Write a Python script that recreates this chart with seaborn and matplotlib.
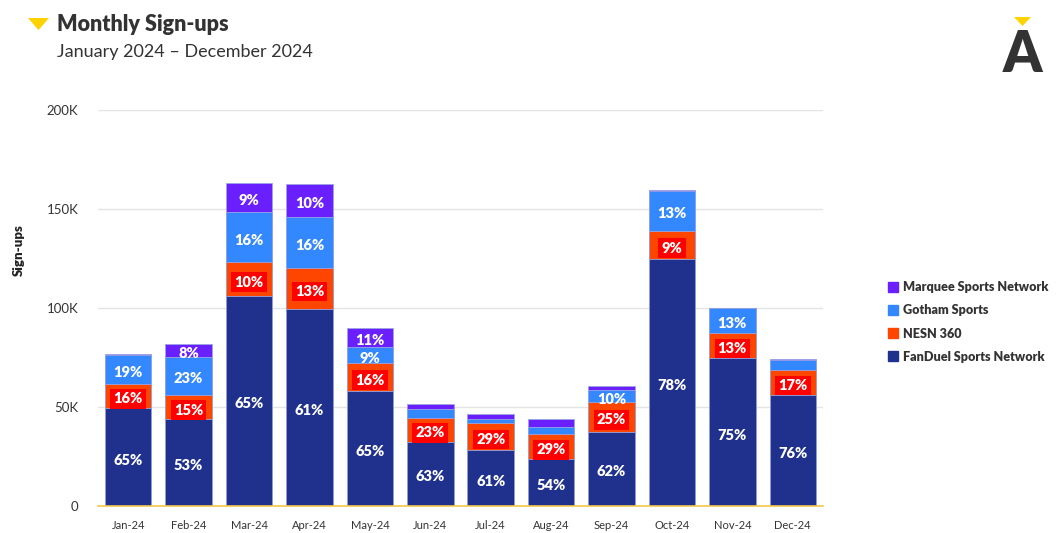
# plot.py

import seaborn as sns
import matplotlib.pyplot as plt
from matplotlib.lines import Line2D
from matplotlib.patches import Polygon
import numpy as np

# --- 1. Data (sign-ups in thousands) ---
months = ["Jan-24", "Feb-24", "Mar-24", "Apr-24", "May-24", "Jun-24",
          "Jul-24", "Aug-24", "Sep-24", "Oct-24", "Nov-24", "Dec-24"]
fanduel = [49.5, 43.8, 106.2, 99.5, 58.1, 32.5, 28.3, 23.6, 37.6, 124.6, 74.8, 56.2]
nesn = [12.3, 12.4, 16.9, 20.9, 14.1, 11.9, 13.5, 12.6, 14.9, 14.4, 12.6, 12.5]
gotham = [14.5, 19.0, 25.5, 25.5, 8.0, 4.5, 2.3, 3.5, 5.9, 20.3, 12.6, 5.0]
marquee = [0.3, 6.8, 14.5, 16.5, 9.6, 2.4, 2.5, 4.1, 2.2, 0.3, 0.2, 0.3]

series_names = ["FanDuel Sports Network", "NESN 360", "Gotham Sports", "Marquee Sports Network"]
series_colors = ["#1f318c", "#ff4600", "#3388ff", "#6a1fff"]
y_ticks = [0, 50, 100, 150, 200]
y_tick_labels = ["0", "50K", "100K", "150K", "200K"]

vals = np.array([fanduel, nesn, gotham, marquee])
cum = vals.cumsum(axis=0)
totals = cum[-1]

# --- 2. Styling ---
sns.set_style("white")
plt.rcParams["font.family"] = ["Lato", "DejaVu Sans"]

W, H = 1059, 533
fig = plt.figure(figsize=(W / 100, H / 100), dpi=100)
ax = fig.add_axes([98 / W, 1 - 506 / H, 725 / W, 396 / H])

# --- 3. Stacked bars (cumulative totals drawn back to front) ---
for k in range(3, -1, -1):
    sns.barplot(x=months, y=cum[k], order=months, color=series_colors[k],
                saturation=1, width=0.77, edgecolor="#9aa5e0", linewidth=0.6,
                ax=ax, zorder=3)

# percentage labels
for k in range(4):
    for i in range(len(months)):
        v = vals[k, i]
        if v < 5.5:
            continue
        pct = round(v / totals[i] * 100)
        yc = cum[k, i] - v / 2
        box = dict(boxstyle="square,pad=0.22", fc="#ff0000", ec="none") if k == 1 else None
        ax.annotate(f"{pct}%", (i, yc), xytext=(0, -1.5), textcoords="offset points",
                    ha="center", va="center_baseline", color="white",
                    fontsize=10.5, fontweight="heavy", bbox=box, zorder=5)

# --- 4. Axes ---
ax.set_xlim(-0.5, len(months) - 0.5)
ax.set_ylim(0, 200)
ax.set_yticks(y_ticks)
ax.set_yticklabels(y_tick_labels)
ax.yaxis.grid(True, color="#e4e4e4", linewidth=1, zorder=0)
ax.set_axisbelow(True)
for s in ["top", "right", "left"]:
    ax.spines[s].set_visible(False)
ax.spines["bottom"].set_color("#f2c94c")
ax.spines["bottom"].set_linewidth(1.2)
ax.spines["bottom"].set_zorder(6)
ax.tick_params(axis="y", length=0, pad=14, labelsize=9.5, labelcolor="#333333")
ax.tick_params(axis="x", length=0, pad=10, labelsize=8, labelcolor="#333333")
ax.set_xlabel("")
ax.set_ylabel("Sign-ups", fontsize=9.5, fontweight="heavy", color="#222222")
ax.yaxis.set_label_coords(-0.101, 0.646)

# --- 5. Legend ---
handles = [Line2D([], [], marker="s", ls="none", color=c, markersize=6.5)
           for c in series_colors[::-1]]
fig.legend(handles, series_names[::-1], loc="upper left",
           bbox_to_anchor=(882 / W, 1 - 275 / H), frameon=False,
           prop={"weight": "heavy", "size": 9.1}, labelcolor="#333333",
           handlelength=0.8, handletextpad=0.35, labelspacing=0.88, borderpad=0)

# --- 6. Titles & decorations ---
def px(x, y):
    return (x / W, 1 - y / H)

fig.add_artist(Polygon([px(28, 18), px(49, 18), px(38.5, 30)], closed=True,
                       fc="#ffd200", ec="none", transform=fig.transFigure))
fig.text(*px(57, 31), "Monthly Sign-ups", fontsize=15.5, fontweight="heavy",
         color="#333333", ha="left", va="baseline")
fig.text(*px(57, 57), "January 2024 \u2013 December 2024", fontsize=13,
         color="#333333", ha="left", va="baseline")

fig.add_artist(Polygon([px(1014, 17), px(1031, 17), px(1022.5, 26)], closed=True,
                       fc="#ffd200", ec="none", transform=fig.transFigure))
fig.text(*px(1022.5, 72), "A", fontsize=40, fontweight="heavy",
         color="#333333", ha="center", va="baseline")

# --- 7. Save ---
fig.savefig("out.png", dpi=100)
plt.close(fig)
